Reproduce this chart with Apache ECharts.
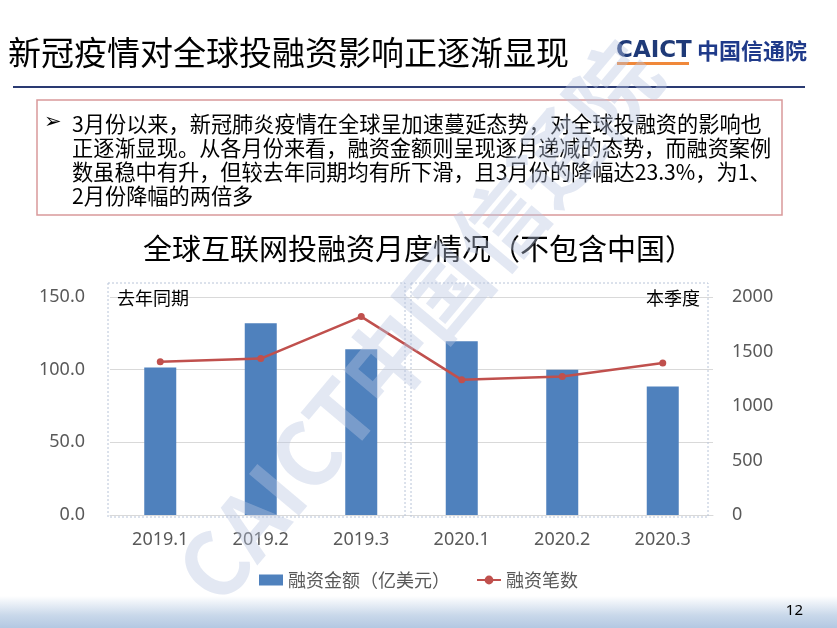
<!DOCTYPE html>
<html>
<head>
<meta charset="utf-8">
<script src="https://cdn.jsdelivr.net/npm/echarts@6/dist/echarts.min.js"></script>
<style>
html,body{margin:0;padding:0;background:#fff;}
#main{width:837px;height:628px;}
</style>
</head>
<body>
<div id="main"></div>
<script>
// ---- data ----
const categories = ['2019.1', '2019.2', '2019.3', '2020.1', '2020.2', '2020.3'];
const amountValues = [101.5, 132, 114, 119.5, 100, 88.5];     // 融资金额（亿美元）
const countValues = [1405, 1435, 1820, 1240, 1270, 1395];     // 融资笔数
const leftTicks = [0, 50, 150];
const seriesNames = ['融资金额（亿美元）', '融资笔数'];
const slideTitle = '新冠疫情对全球投融资影响正逐渐显现';
const chartTitle = '全球互联网投融资月度情况（不包含中国）';
const noteLines = [
  '3月份以来，新冠肺炎疫情在全球呈加速蔓延态势，对全球投融资的影响也',
  '正逐渐显现。从各月份来看，融资金额则呈现逐月递减的态势，而融资案例',
  '数虽稳中有升，但较去年同期均有所下滑，且3月份的降幅达23.3%，为1、',
  '2月份降幅的两倍多'
];
const groupLabels = ['去年同期', '本季度'];
const pageNumber = '12';

const CJK = '"Noto Sans CJK SC", "Noto Sans", sans-serif';
const NUM = '"Noto Sans", "Noto Sans CJK SC", sans-serif';

const chart = echarts.init(document.getElementById('main'), null, {renderer: 'canvas'});

const graphics = [
  // bottom gradient band
  {type: 'rect', left: 0, top: 596, z: 0, shape: {width: 837, height: 32},
   style: {fill: new echarts.graphic.LinearGradient(0, 0, 0, 1, [
     {offset: 0, color: '#ffffff'}, {offset: 0.6, color: '#c9d8ea'}, {offset: 1, color: '#b3c8e2'}])}},
  {type: 'text', x: 803, y: 611, z: 5, style: {text: pageNumber, font: '15px ' + NUM, fill: '#000', align: 'right', verticalAlign: 'middle'}},
  // slide title
  {type: 'text', x: 8, y: 52, z: 5, style: {text: slideTitle, font: '33px ' + CJK, fill: '#000', verticalAlign: 'middle'}},
  // logo
  {type: 'text', x: 616, y: 51, z: 5, style: {text: 'CAICT', font: 'bold 23px "DejaVu Sans", sans-serif', fill: '#1f3a78', verticalAlign: 'middle'}},
  {type: 'rect', z: 5, shape: {x: 617, y: 62, width: 72, height: 3}, style: {fill: '#f0883a'}},
  {type: 'text', x: 697, y: 51, z: 5, style: {text: '中国信通院', font: 'bold 22px ' + CJK, fill: '#1f3a8a', verticalAlign: 'middle'}},
  // header rule
  {type: 'line', z: 5, shape: {x1: 13, y1: 87, x2: 805, y2: 87}, style: {stroke: '#2a3a72', lineWidth: 2}},
  // note box
  {type: 'rect', z: 4, shape: {x: 37, y: 100, width: 745, height: 115}, style: {fill: '#fff', stroke: '#d9999a', lineWidth: 1.5}},
  {type: 'text', x: 44, y: 123, z: 5, style: {text: '➢', font: '21px "DejaVu Sans", sans-serif', fill: '#000', verticalAlign: 'middle'}},
  // group boxes
  {type: 'rect', z: 1, shape: {x: 108, y: 283, width: 297, height: 234}, style: {fill: 'none', stroke: '#b8c4d8', lineWidth: 1, lineDash: [2, 2]}},
  {type: 'rect', z: 1, shape: {x: 411, y: 283, width: 297, height: 234}, style: {fill: 'none', stroke: '#b8c4d8', lineWidth: 1, lineDash: [2, 2]}},
  {type: 'text', x: 117, y: 298, z: 5, style: {text: groupLabels[0], font: '18px ' + CJK, fill: '#000', verticalAlign: 'middle'}},
  {type: 'text', x: 700, y: 298, z: 5, style: {text: groupLabels[1], font: '18px ' + CJK, fill: '#000', align: 'right', verticalAlign: 'middle'}},
  // watermark
  {type: 'text', x: 418, y: 322, z: 100, rotation: 50 * Math.PI / 180,
   style: {text: 'CAICT中国信通院', font: 'bold 88px ' + CJK, fill: 'rgba(185,198,225,0.40)', align: 'center', verticalAlign: 'middle'}}
];
noteLines.forEach(function (t, i) {
  graphics.push({type: 'text', x: 72, y: 124 + i * 24, z: 5,
    style: {text: t, font: '21.2px ' + CJK, fill: '#000', verticalAlign: 'middle'}});
});

const option = {
  animation: false,
  backgroundColor: '#fff',
  title: {
    text: chartTitle, left: 'center', top: 229,
    textStyle: {fontFamily: CJK, fontSize: 29, fontWeight: 'normal', color: '#000'}
  },
  legend: {
    top: 566, left: 'center', itemGap: 26, itemWidth: 24, itemHeight: 11,
    textStyle: {fontFamily: CJK, fontSize: 18, color: '#595959'},
    data: [{name: seriesNames[0], icon: 'rect'}, {name: seriesNames[1]}]
  },
  grid: {left: 110, right: 124, top: 297, bottom: 113},
  xAxis: {
    type: 'category', data: categories,
    axisLine: {lineStyle: {color: '#d9d9d9'}},
    axisTick: {show: false},
    axisLabel: {fontFamily: NUM, fontSize: 18, color: '#595959', margin: 16}
  },
  yAxis: [
    {type: 'value', min: leftTicks[0], max: leftTicks[2], interval: leftTicks[1],
     axisLine: {show: false}, axisTick: {show: false},
     splitLine: {lineStyle: {color: '#d9d9d9'}},
     axisLabel: {fontFamily: NUM, fontSize: 18, color: '#595959', margin: 25,
       formatter: function (v) { return v.toFixed(1); }}},
    {type: 'value', min: 0, max: 2000, interval: 500,
     axisLine: {show: false}, axisTick: {show: false}, splitLine: {show: false},
     axisLabel: {fontFamily: NUM, fontSize: 18, color: '#595959', margin: 19,
       formatter: function (v) { return String(v); }}}
  ],
  series: [
    {name: seriesNames[0], type: 'bar', data: amountValues, barWidth: 32, yAxisIndex: 0,
     itemStyle: {color: '#4f81bd'}, z: 2},
    {name: seriesNames[1], type: 'line', data: countValues, yAxisIndex: 1,
     symbol: 'circle', symbolSize: 7, lineStyle: {color: '#c0504d', width: 2.5},
     itemStyle: {color: '#c0504d'}, z: 3}
  ],
  graphic: graphics
};
chart.setOption(option);
</script>
</body>
</html>
